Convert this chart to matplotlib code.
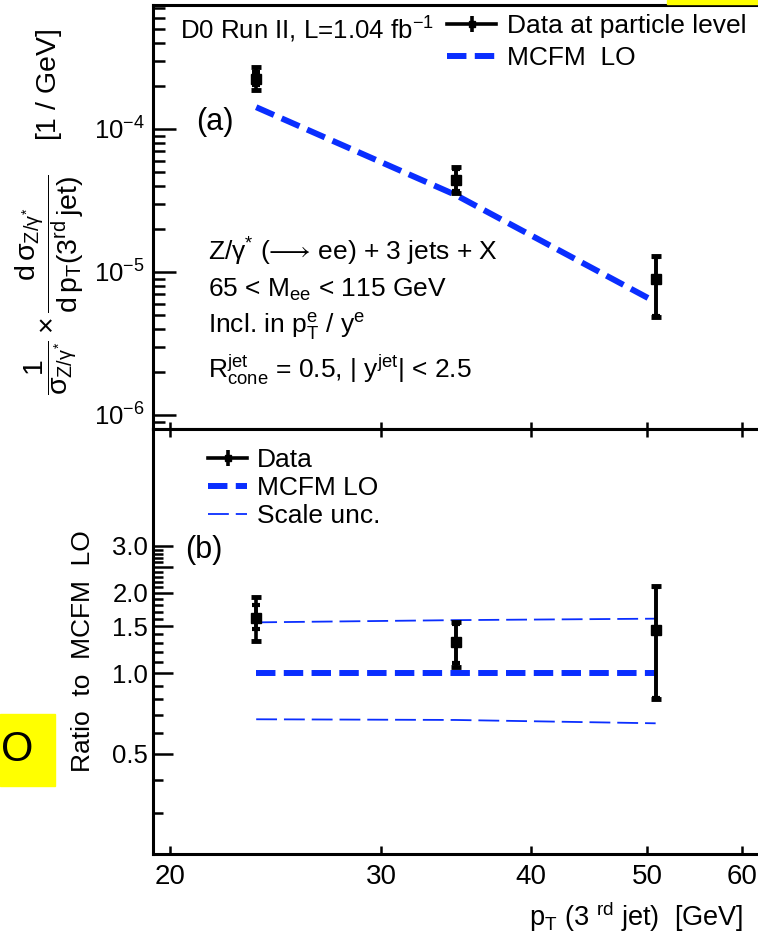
import matplotlib
matplotlib.use('Agg')
import matplotlib.pyplot as plt
from matplotlib.lines import Line2D
from matplotlib.patches import Rectangle
from matplotlib.ticker import FixedLocator, FixedFormatter, NullFormatter
from matplotlib.legend_handler import HandlerTuple
import numpy as np

plt.rcParams['font.family'] = ['Liberation Sans', 'DejaVu Sans']
plt.rcParams['mathtext.fontset'] = 'custom'
plt.rcParams['mathtext.rm'] = 'Liberation Sans'
plt.rcParams['mathtext.it'] = 'Liberation Sans'
plt.rcParams['mathtext.bf'] = 'Liberation Sans:bold'
plt.rcParams['mathtext.sf'] = 'Liberation Sans'
plt.rcParams['mathtext.fallback'] = 'stixsans'
plt.rcParams['lines.scale_dashes'] = False

# ---------------- data ----------------
pt = [23.6, 34.6, 50.8]
xs_data = [2.24e-4, 4.4e-5, 8.9e-6]
xs_tot_up = [0.47e-4, 1.0e-5, 4.0e-6]
xs_tot_dn = [0.38e-4, 0.84e-5, 4.05e-6]
xs_stat_up = [0.25e-4, 0.85e-5, 3.9e-6]
xs_stat_dn = [0.22e-4, 0.70e-5, 3.95e-6]
mcfm_lo = [1.42e-4, 3.46e-5, 6.16e-6]

ratio = [1.61, 1.31, 1.45]
ratio_tot_up = [0.32, 0.25, 0.67]
ratio_tot_dn = [0.29, 0.25, 0.65]
ratio_stat_up = [0.19, 0.22, 0.66]
ratio_stat_dn = [0.15, 0.22, 0.64]
mcfm_ratio = [1.0, 1.0, 1.0]
scale_up = [1.55, 1.58, 1.60]
scale_dn = [0.673, 0.669, 0.65]

x_ticks = [20, 30, 40, 50, 60]
x_ticklabels = ['20', '30', '40', '50', '60']
y1_ticks = [1e-6, 1e-5, 1e-4]
y1_ticklabels = ['$10^{-6}$', '$10^{-5}$', '$10^{-4}$']
y2_ticks = [0.5, 1.0, 1.5, 2.0, 2.5, 3.0]
y2_ticklabels = ['0.5', '1.0', '1.5', '2.0', '', '3.0']

# ---------------- figure ----------------
W, H = 758, 940
fig = plt.figure(figsize=(W/100, H/100), dpi=100)

def rect(x0, y0, x1, y1):
    return [x0/W, 1 - y1/H, (x1 - x0)/W, (y1 - y0)/H]

def fx(x):
    return x / W

def fy(y):
    return 1 - y / H

ax1 = fig.add_axes(rect(153, 5, 776, 429))
ax2 = fig.add_axes(rect(153, 429, 776, 854))

blue = '#0a2eff'
SPW = 2.2
FS = 19

for ax in (ax1, ax2):
    ax.set_xscale('log')
    ax.set_yscale('log')
    ax.set_xlim(19.36, 64)
    for s in ax.spines.values():
        s.set_linewidth(SPW)
    ax.xaxis.set_major_locator(FixedLocator(x_ticks))
    ax.xaxis.set_minor_locator(FixedLocator([]))

# ---- top panel ----
ax1.set_ylim(7.98e-7, 7.36e-4)
ax1.yaxis.set_major_locator(FixedLocator(y1_ticks))
ax1.yaxis.set_major_formatter(FixedFormatter(y1_ticklabels))
minor1 = [m * 10.0**e for e in (-7, -6, -5, -4) for m in range(2, 10)]
ax1.yaxis.set_minor_locator(FixedLocator(minor1))
ax1.yaxis.set_minor_formatter(NullFormatter())
ax1.xaxis.set_major_formatter(NullFormatter())
ax1.tick_params(axis='x', which='major', direction='in', length=5, width=1.8,
                top=False, bottom=True, labelbottom=False)
ax1.tick_params(axis='y', which='major', direction='in', length=16.5, width=1.8,
                left=True, right=False, labelsize=18.5, pad=6)
ax1.tick_params(axis='y', which='minor', direction='in', length=8.6, width=1.8,
                left=True, right=False)

ax1.plot(pt, mcfm_lo, color=blue, lw=4.3, dashes=(14, 6), solid_capstyle='butt',
         dash_capstyle='butt', zorder=2)
ax1.errorbar(pt, xs_data, yerr=[xs_tot_dn, xs_tot_up], fmt='s', color='k',
             ms=6.5, elinewidth=2.6, capsize=3.6, capthick=3.5, zorder=3)
ax1.errorbar(pt, xs_data, yerr=[xs_stat_dn, xs_stat_up], fmt='none', color='k',
             elinewidth=2.6, capsize=3.0, capthick=3.0, zorder=3)

h_data = (Line2D([], [], color='k', lw=2.6),
          Line2D([], [], color='k', marker='s', ms=5, ls='none'),
          Line2D([], [], color='k', marker='|', ms=11, mew=2.6, ls='none'))
h_mc = Line2D([], [], color=blue, lw=4.3, dashes=(14, 6))
ax1.legend([h_data, h_mc], ['Data at particle level', 'MCFM  LO'],
           handler_map={tuple: HandlerTuple(ndivide=1)},
           loc='upper left', bbox_to_anchor=(fx(447), fy(14)),
           bbox_transform=fig.transFigure, frameon=False, fontsize=FS,
           handlelength=1.86, handletextpad=0.42, borderpad=0,
           borderaxespad=0, labelspacing=0.3)

fig.text(fx(180), fy(30), r'D0 Run II, L=1.04 fb$^{-1}$', fontsize=18.6,
         ha='left', va='center')
fig.text(fx(196), fy(122), '(a)', fontsize=22, ha='left', va='center')
tx = fx(208)
fig.text(tx, fy(252), 'Z/γ$^{*}$ (${\u27f6}$ ee) + 3 jets + X', fontsize=FS,
         ha='left', va='center')
fig.text(tx, fy(290), r'65 < M$_{ee}$ < 115 GeV', fontsize=FS, ha='left', va='center')
fig.text(tx, fy(327), r'Incl. in p$_{T}^{e}$ / y$^{e}$', fontsize=FS, ha='left', va='center')
fig.text(tx, fy(370), r'R$_{cone}^{jet}$ = 0.5, | y$^{jet}$| < 2.5', fontsize=FS,
         ha='left', va='center')

fig.text(fx(50), fy(212),
         r'$\dfrac{1}{\sigma_{Z/\gamma^{*}}}\times\dfrac{d\,\sigma_{Z/\gamma^{*}}}{d\,p_{T}(3^{rd}\,jet)}$    [1 / GeV]',
         fontsize=20.5, rotation=90, ha='center', va='center')

# ---- bottom panel ----
ax2.set_ylim(0.211, 8.19)
ax2.yaxis.set_major_locator(FixedLocator(y2_ticks))
ax2.yaxis.set_major_formatter(FixedFormatter(y2_ticklabels))
minor2 = [round(v, 1) for v in np.arange(0.3, 2.95, 0.1)
          if round(v, 1) not in y2_ticks]
ax2.yaxis.set_minor_locator(FixedLocator(minor2))
ax2.yaxis.set_minor_formatter(NullFormatter())
ax2.xaxis.set_major_formatter(FixedFormatter(x_ticklabels))
ax2.tick_params(axis='x', which='major', direction='in', length=6, width=1.8,
                top=True, bottom=True, labelsize=20, pad=7)
ax2.tick_params(axis='y', which='major', direction='in', length=14.4, width=1.8,
                left=True, right=False, labelsize=18.5, pad=3.5)
ax2.tick_params(axis='y', which='minor', direction='in', length=7.2, width=1.8,
                left=True, right=False)

ax2.plot(pt, scale_up, color=blue, lw=1.3, dashes=(15, 5), zorder=2)
ax2.plot(pt, scale_dn, color=blue, lw=1.3, dashes=(15, 5), zorder=2)
ax2.plot(pt, mcfm_ratio, color=blue, lw=4.3, dashes=(14, 6), zorder=2)
ax2.errorbar(pt, ratio, yerr=[ratio_tot_dn, ratio_tot_up], fmt='s', color='k',
             ms=6.5, elinewidth=2.6, capsize=3.6, capthick=3.5, zorder=3)
ax2.errorbar(pt, ratio, yerr=[ratio_stat_dn, ratio_stat_up], fmt='none', color='k',
             elinewidth=2.6, capsize=3.0, capthick=3.0, zorder=3)

h_sc = Line2D([], [], color=blue, lw=1.3, dashes=(15, 5))
ax2.legend([h_data, h_mc, h_sc], ['Data', 'MCFM LO', 'Scale unc.'],
           handler_map={tuple: HandlerTuple(ndivide=1)},
           loc='upper left', bbox_to_anchor=(fx(208), fy(448)),
           bbox_transform=fig.transFigure, frameon=False, fontsize=FS,
           handlelength=1.48, handletextpad=0.38, borderpad=0,
           borderaxespad=0, labelspacing=0.15)

fig.text(fx(185), fy(550), '(b)', fontsize=22, ha='left', va='center')
fig.text(fx(83), fy(651), 'Ratio  to  MCFM  LO', fontsize=FS, rotation=90,
         ha='center', va='center')
fig.text(fx(743), fy(917), r'p$_{T}$ (3 $^{rd}$ jet)  [GeV]', fontsize=19.5,
         ha='right', va='center')

# ---- yellow highlight fragments ----
fig.patches.append(Rectangle((fx(667), fy(4)), fx(758) - fx(667), 4/H,
                             transform=fig.transFigure, color='#ffff00', zorder=0))
fig.patches.append(Rectangle((0, fy(786)), fx(55), 72/H,
                             transform=fig.transFigure, color='#ffff00', zorder=0))
fig.text(fx(1), fy(750), 'O', fontsize=30, ha='left', va='center')

fig.savefig('out.png', dpi=100)
